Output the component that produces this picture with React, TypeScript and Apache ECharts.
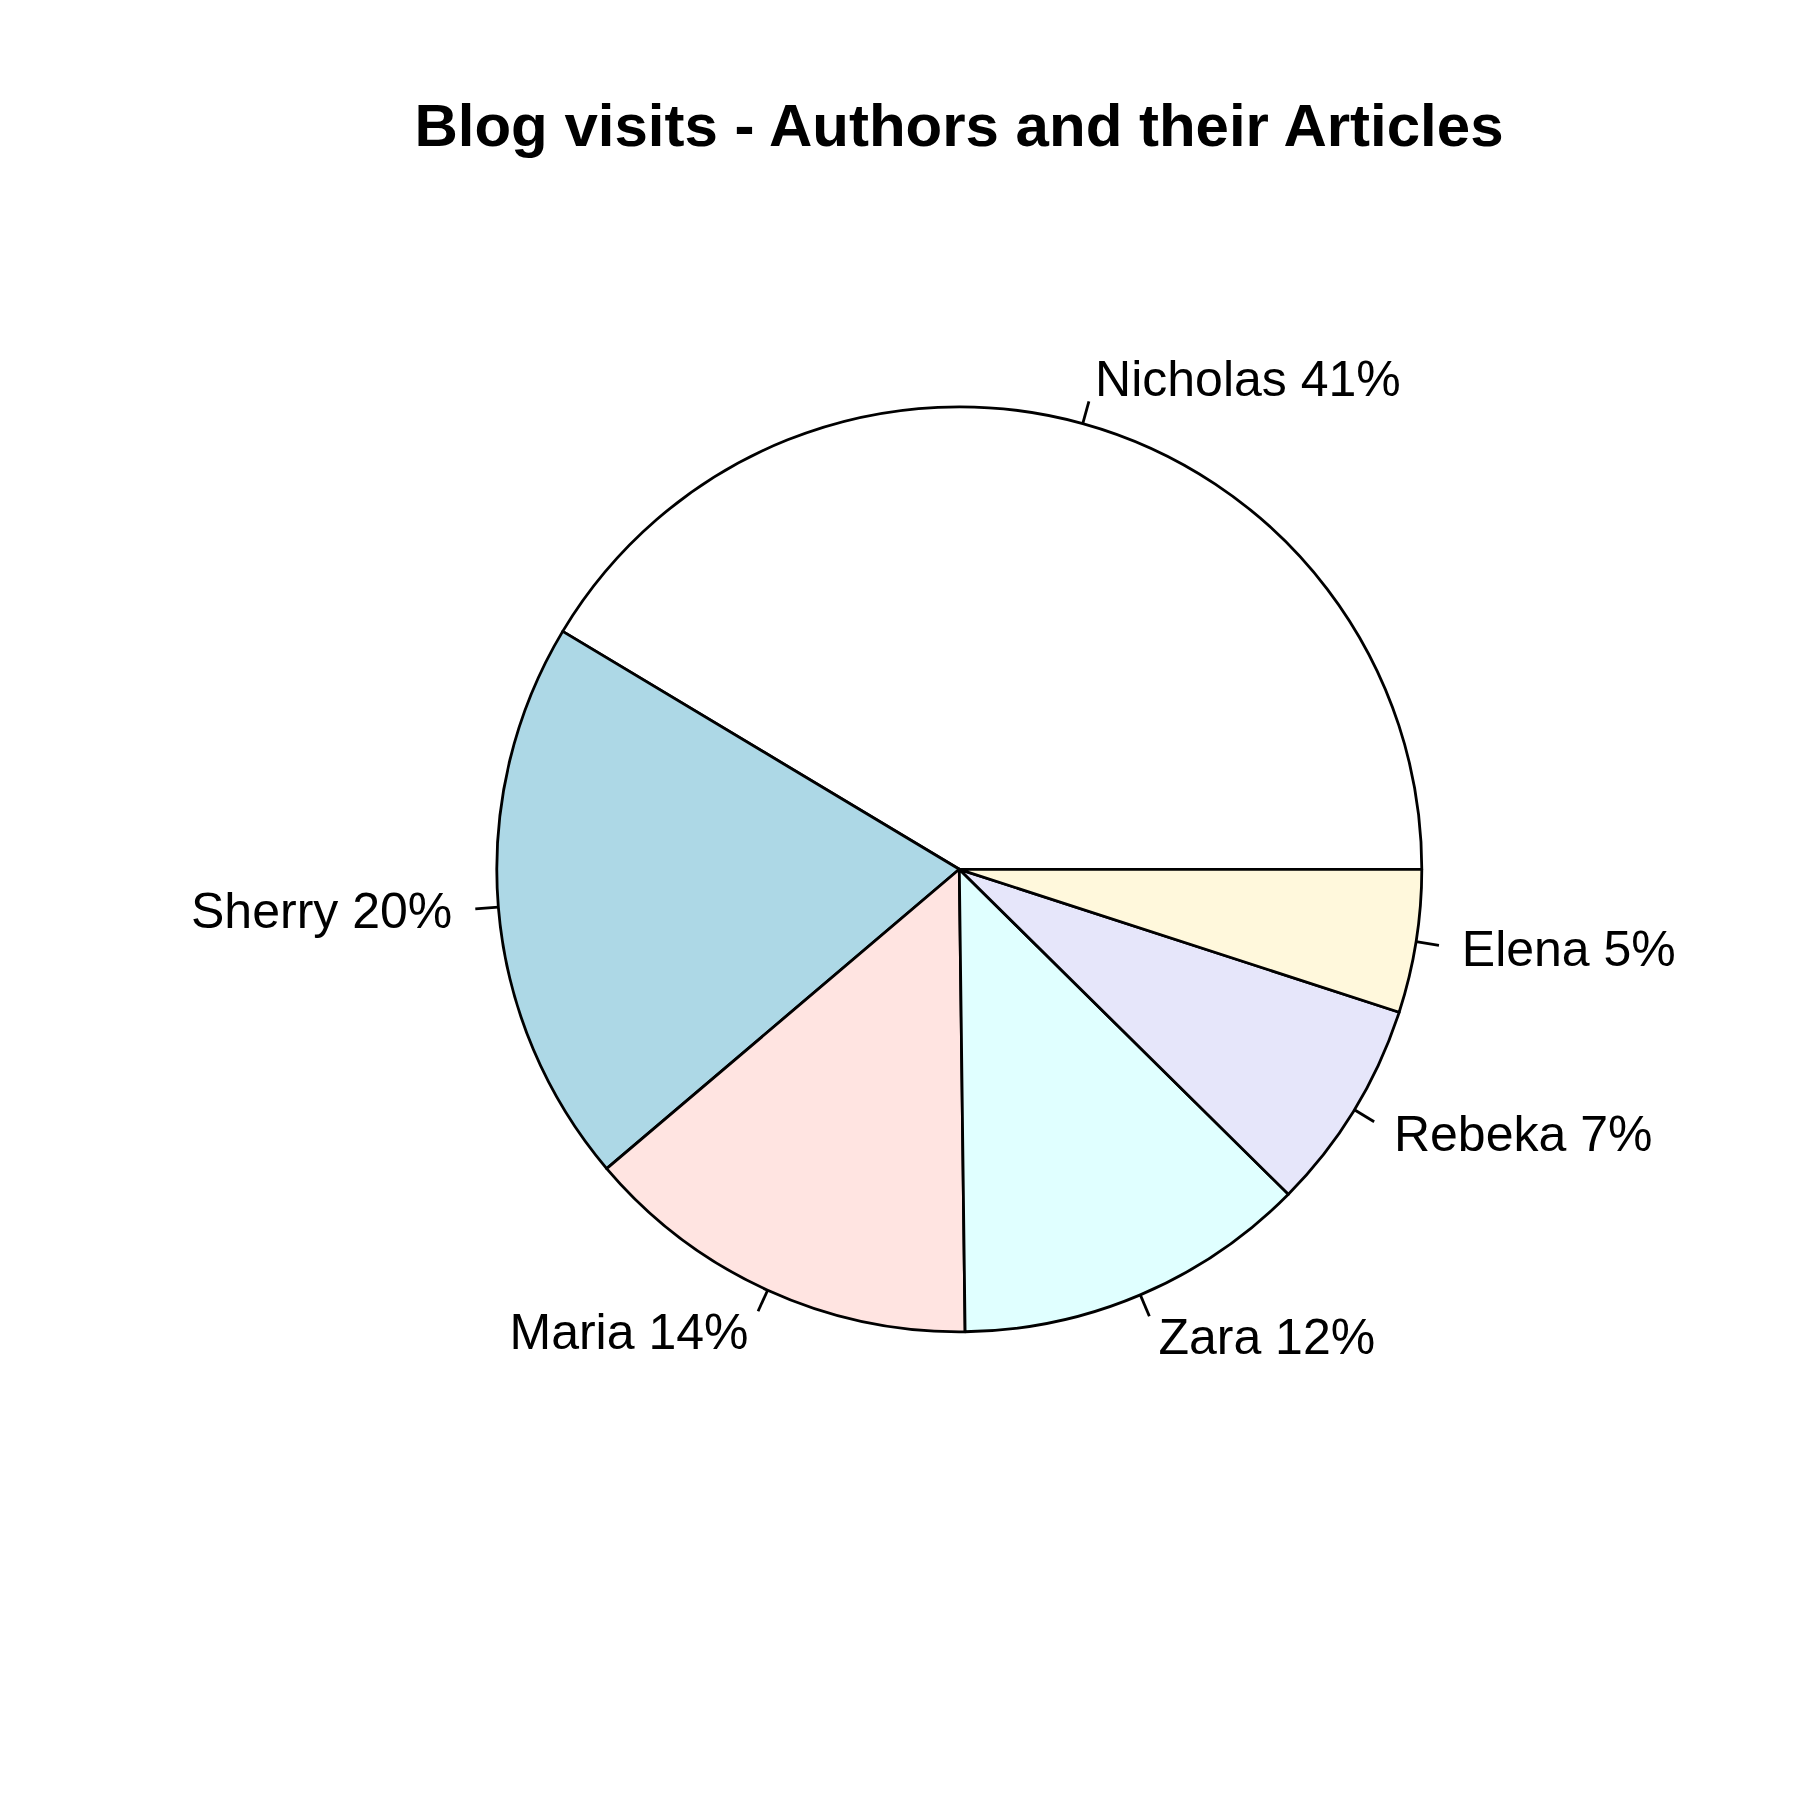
import React, { useEffect, useRef } from "react";
import * as echarts from "echarts";

const authors = ["Nicholas", "Sherry", "Maria", "Zara", "Rebeka", "Elena"];
const visits = [414, 198, 140, 124, 74, 50];
const sliceColors = ["#FFFFFF", "#ADD8E6", "#FFE4E1", "#E0FFFF", "#E6E6FA", "#FFF8DC"];
const chartTitle = "Blog visits - Authors and their Articles";

const CX = 959.3;
const CY = 869.3;
const R = 462.5;

export default function App() {
  const ref = useRef<HTMLDivElement>(null);
  useEffect(() => {
    document.body.style.margin = "0";
    const chart = echarts.init(ref.current!, null, { renderer: "svg" });
    const total = visits.reduce((a, b) => a + b, 0);
    const mids: number[] = [];
    let acc = 0;
    visits.forEach((v) => {
      const a0 = (acc / total) * 2 * Math.PI;
      acc += v;
      const a1 = (acc / total) * 2 * Math.PI;
      mids.push((a0 + a1) / 2);
    });
    const font = "'Liberation Sans', Arial, sans-serif";
    chart.setOption({
      animation: false,
      backgroundColor: "#ffffff",
      title: {
        text: chartTitle,
        left: 954,
        textAlign: "center",
        top: 90,
        textStyle: { fontFamily: font, fontSize: 60, fontWeight: "bold", color: "#000" },
      },
      series: [
        {
          type: "pie",
          center: [CX, CY],
          radius: R,
          startAngle: 0,
          clockwise: false,
          avoidLabelOverlap: false,
          silent: true,
          itemStyle: { borderColor: "#000", borderWidth: 2.8 },
          label: {
            show: true,
            position: "outside",
            fontFamily: font,
            fontSize: 50,
            color: "#000",
            formatter: (p: any) => `${p.name} ${Math.round((p.value / total) * 100)}%`,
          },
          labelLine: { show: true, length: 23, length2: 0, lineStyle: { color: "#000", width: 2.8 } },
          labelLayout: (params: any) => {
            const m = mids[params.dataIndex];
            const c = Math.cos(m);
            const s = Math.sin(m);
            const tx = CX + 1.1 * R * c;
            const ty = CY - 1.1 * R * s;
            return {
              x: tx,
              y: ty,
              align: c < 0 ? "right" : "left",
              verticalAlign: "middle",
              labelLinePoints: [
                [CX + R * c, CY - R * s],
                [CX + 1.05 * R * c, CY - 1.05 * R * s],
                [CX + 1.05 * R * c, CY - 1.05 * R * s],
              ],
            };
          },
          data: authors.map((n, i) => ({ name: n, value: visits[i], itemStyle: { color: sliceColors[i] } })),
        },
      ],
    });
    return () => chart.dispose();
  }, []);
  return <div ref={ref} style={{ width: 1800, height: 1800 }} />;
}
